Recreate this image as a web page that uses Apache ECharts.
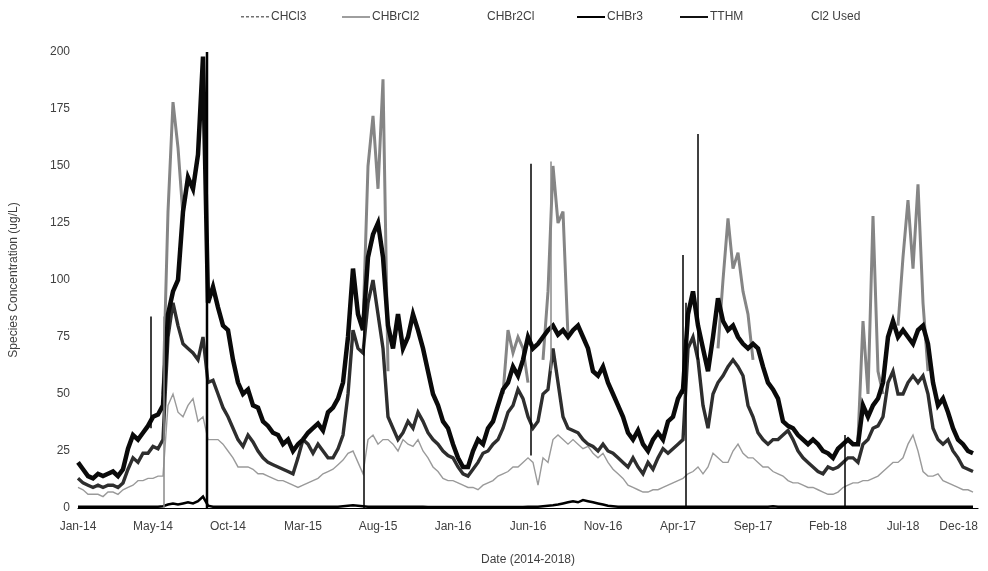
<!DOCTYPE html>
<html><head><meta charset="utf-8">
<script src="https://cdn.jsdelivr.net/npm/echarts@6/dist/echarts.min.js"></script>
<style>html,body{margin:0;background:#fff}#c{width:988px;height:571px}</style>
</head><body><div id="c"></div><script>
// sampling: one reading every 10 days starting 1 Jan 2014 (day 0)
const stepDays = 10;
const xTickLabels = ['Jan-14','May-14','Oct-14','Mar-15','Aug-15','Jan-16','Jun-16','Nov-16','Apr-17','Sep-17','Feb-18','Jul-18','Dec-18'];
const yTicks = [0,25,50,75,100,125,150,175,200];

const TTHM = [
20,17,14,13,15,14,15,16,14,17,
26,32,30,33,36,40,41,45,85,95,
100,130,145,140,155,198,90,97,88,80,
78,65,55,50,52,45,44,38,36,33,
32,28,30,25,28,30,33,35,37,34,
42,44,48,55,75,105,85,78,110,120,
125,110,80,70,85,70,75,85,78,70,
60,50,45,38,35,28,22,18,18,25,
30,28,35,38,45,52,55,62,58,65,
75,70,72,75,78,80,76,78,75,78,
80,75,70,60,58,62,55,50,45,40,
33,30,34,28,25,30,33,30,38,40,
48,52,85,95,80,70,60,75,92,82,
78,80,75,72,70,72,70,62,55,52,
48,38,36,35,32,30,28,30,28,25,
24,22,26,28,30,28,28,45,40,45,
48,55,75,82,75,78,75,72,78,80,
72,55,45,48,42,35,30,28,25,24];

const CHCl3 = [
13,11,10,9,10,9,10,10,9,11,
17,22,20,24,24,27,26,30,75,90,
80,72,70,68,65,75,55,56,50,44,
40,35,30,27,32,29,25,22,20,19,
18,17,16,15,22,30,28,24,28,25,
22,22,26,32,50,78,70,68,90,100,
85,70,40,35,30,33,38,35,42,38,
33,30,28,25,23,22,18,15,14,17,
20,24,25,28,30,35,42,45,52,48,
40,35,38,50,52,70,55,40,35,34,
33,30,28,27,25,28,25,24,22,20,
18,22,18,15,20,17,22,26,24,26,
28,30,70,75,65,45,35,50,55,58,
62,65,62,58,45,40,33,30,28,30,
30,32,34,30,25,22,20,18,16,15,
18,17,18,20,22,22,20,28,30,35,
36,40,55,60,50,50,55,58,55,58,
50,35,30,28,30,25,22,18,17,16];

const CHBrCl2 = [
9,8,6,6,6,5,7,7,6,8,
9,10,12,12,13,13,14,14,45,50,
42,40,45,48,38,40,30,30,30,28,
25,22,18,18,18,17,15,15,14,13,
12,12,11,10,9,10,11,12,13,15,
16,17,19,21,24,25,20,15,30,32,
28,30,30,28,25,30,28,27,30,25,
22,18,16,13,12,12,11,10,9,9,
8,10,11,12,14,15,16,18,18,20,
22,20,10,22,20,30,32,30,28,30,
28,26,27,24,22,24,20,17,15,13,
10,9,8,7,7,8,8,9,10,11,
12,13,15,16,18,15,18,24,22,20,
20,25,28,24,22,22,20,18,18,16,
15,14,12,11,11,10,9,9,8,7,
6,6,7,9,10,11,11,12,12,13,
14,16,18,20,20,22,28,32,25,16,
14,14,15,12,11,10,9,8,8,7];

const CHBr2Cl = [
null,null,null,null,null,null,null,null,null,null,
null,null,null,null,null,null,null,50,130,178,
158,128,null,null,null,null,null,null,null,null,
null,null,null,null,null,null,null,null,null,null,
null,null,null,null,null,null,null,null,null,null,
null,null,null,null,null,null,null,80,150,172,
140,188,60,null,null,null,null,null,null,null,
null,null,null,null,null,null,null,null,null,null,
null,null,null,null,null,50,78,68,75,70,
55,null,null,65,95,150,125,130,75,null,
null,null,null,null,null,null,null,null,null,null,
null,null,null,null,null,null,null,null,null,null,
null,null,null,null,null,null,null,null,70,100,
127,105,112,95,85,65,null,null,null,null,
null,null,null,null,null,null,null,null,null,null,
null,null,null,null,null,null,30,82,50,128,
60,50,null,null,80,110,135,105,142,90,
60,null,null,null,null,null,null,null,null,null];

const CHBr3 = [
0.5,0.5,0.5,0.5,0.5,0.5,0.5,0.5,0.5,0.5,
0.5,0.5,0.5,0.5,0.5,0.5,0.6,0.8,1.5,2,
1.5,2,2.5,2,3,5,1,0.6,0.5,0.5,
0.5,0.5,0.5,0.5,0.5,0.5,0.5,0.5,0.5,0.5,
0.5,0.5,0.5,0.5,0.5,0.5,0.5,0.5,0.5,0.5,
0.5,0.5,0.6,0.8,1,1.2,1,0.8,0.6,0.5,
0.5,0.5,0.5,0.5,0.5,0.5,0.5,0.5,0.5,0.5,
0.4,0.4,0.4,0.4,0.4,0.4,0.4,0.4,0.4,0.4,
0.4,0.4,0.4,0.4,0.4,0.4,0.4,0.4,0.4,0.4,
0.5,0.5,0.6,0.8,1,1.2,1.5,2,2.5,3,
2.5,3.5,3,2.5,2,1.5,1,0.8,0.6,0.5,
0.5,0.5,0.5,0.5,0.5,0.5,0.5,0.5,0.5,0.5,
0.5,0.5,0.5,0.5,0.5,0.5,0.5,0.5,0.5,0.5,
0.5,0.5,0.5,0.5,0.5,0.5,0.5,0.5,0.6,0.8,
0.6,0.5,0.5,0.5,0.5,0.5,0.5,0.5,0.5,0.5,
0.5,0.5,0.5,0.5,0.5,0.5,0.5,0.5,0.5,0.5,
0.5,0.5,0.5,0.5,0.5,0.5,0.5,0.5,0.5,0.5,
0.5,0.5,0.5,0.5,0.5,0.5,0.5,0.5,0.5,0.5];

// short excursions (days since 1 Jan 2014) drawn as near-vertical strokes
const spikeDay  = [146, 172, 258, 572, 906, 946, 1210, 1216, 1240, 1534];
const spikeLow  = [35, 0, 0, 0, 23, 60, 50, 0, 65, 0];
const spikeHigh = [84, 84, 200, 78, 151, 152, 111, 90, 164, 32];
const spikeGray = [0, 1, 0, 0, 0, 1, 0, 0, 0, 0];

const pts = arr => arr.map((v, i) => [i * stepDays, v]);
const FONT = 'Liberation Sans';

const series = [
  {name:'CHBrCl2', data: pts(CHBrCl2), color:'#9a9a9a', width:1.4, z:1},
  {name:'CHBr2Cl', data: pts(CHBr2Cl), color:'#858585', width:3, z:2},
  {name:'CHCl3', data: pts(CHCl3), color:'#2e2e2e', width:3.4, z:3},
  {name:'TTHM', data: pts(TTHM), color:'#0a0a0a', width:4.5, z:4},
  {name:'CHBr3', data: pts(CHBr3), color:'#000000', width:2.5, z:5}
].map(s => ({
  type:'line', name:s.name, data:s.data, symbol:'none', showSymbol:false,
  connectNulls:false, z:s.z, itemStyle:{color:s.color},
  lineStyle:{color:s.color, width:s.width, join:'miter', miterLimit:4}, animation:false
}));

spikeDay.forEach((d, k) => {
  const c = spikeGray[k] ? '#8a8a8a' : '#000';
  series.push({
    type:'line', name:'Cl2 Used', symbol:'none', showSymbol:false, z:6, animation:false,
    itemStyle:{color:c}, lineStyle:{color:c, width: spikeHigh[k] >= 200 ? 2.5 : 1.5},
    data:[[d, spikeLow[k]], [d, spikeHigh[k]]]
  });
});

const SOLID = 'path://M0,5 L28,5 L28,7 L0,7 Z';
const THIN = 'path://M0,5.5 L28,5.5 L28,6.8 L0,6.8 Z';
const DOTTED = 'path://M0,5h3v1.6h-3z M5,5h3v1.6h-3z M10,5h3v1.6h-3z M15,5h3v1.6h-3z M20,5h3v1.6h-3z M25,5h3v1.6h-3z M0,0h0.01v0.01h-0.01z M0,12h0.01v0.01h-0.01z';
const legendSpec = [
  {name:'CHCl3', left:236, icon:DOTTED, color:'#707070', op:1},
  {name:'CHBrCl2', left:337, icon:THIN, color:'#6a6a6a', op:1},
  {name:'CHBr2Cl', left:452, icon:THIN, color:'#fff', op:0},
  {name:'CHBr3', left:572, icon:SOLID, color:'#000', op:1},
  {name:'TTHM', left:675, icon:SOLID, color:'#111', op:1},
  {name:'Cl2 Used', left:776, icon:THIN, color:'#fff', op:0}
];
const legends = legendSpec.map(l => ({
  left:l.left, top:6, itemWidth:28, itemHeight:12, itemGap:0,
  selectedMode:false, textStyle:{fontFamily:FONT, fontSize:12, color:'#404040', padding:[0,0,0,-3]},
  data:[{name:l.name, icon:l.icon, itemStyle:{color:l.color, opacity:l.op}}]
}));

const chart = echarts.init(document.getElementById('c'), null, {renderer:'canvas'});
chart.setOption({
  backgroundColor:'#fff',
  animation:false,
  legend: legends,
  grid:{left:78, right:10, top:52, bottom:61, containLabel:false},
  xAxis:{
    type:'value', min:0, max:1800, interval:150,
    name:'Date (2014-2018)', nameLocation:'middle', nameGap:46,
    nameTextStyle:{fontFamily:FONT, fontSize:12, color:'#404040'},
    axisLine:{show:true, lineStyle:{color:'#000', width:1.2}},
    axisTick:{show:false}, splitLine:{show:false},
    axisLabel:{fontFamily:FONT, fontSize:12, color:'#404040', margin:13,
      alignMaxLabel:'right',
      formatter: v => xTickLabels[Math.round(v / 150)] || ''}
  },
  yAxis:{
    type:'value', min:yTicks[0], max:yTicks[yTicks.length-1], interval:25,
    name:'Species Concentration (ug/L)', nameLocation:'middle', nameGap:58, nameRotate:90,
    nameTextStyle:{fontFamily:FONT, fontSize:12, color:'#404040'},
    axisLine:{show:false}, axisTick:{show:false}, splitLine:{show:false},
    axisLabel:{fontFamily:FONT, fontSize:12, color:'#404040', margin:8}
  },
  series: series
});
</script></body></html>
